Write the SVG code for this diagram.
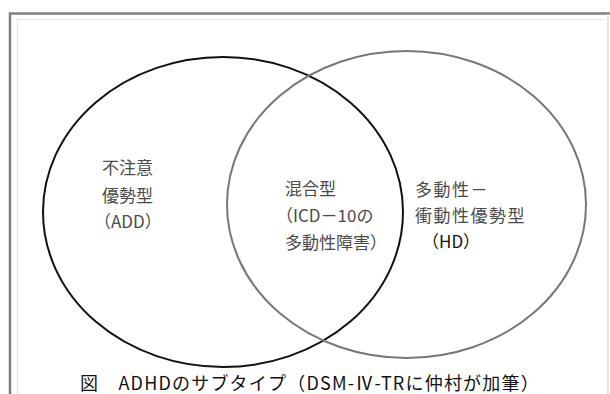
<svg xmlns="http://www.w3.org/2000/svg" width="610" height="394" viewBox="0 0 610 394">
<style>
.frame{fill:none;stroke:#808080;stroke-width:2.5}
.inner{fill:none;stroke:#e2e2e2;stroke-width:1.2}
.lbl{font-family:"Noto Sans CJK JP","Noto Sans",sans-serif;font-size:17px;fill:#4a4a4a}
.lbl2{font-family:"Noto Sans CJK JP","Noto Sans",sans-serif;font-size:17px;fill:#111}
.cap{font-family:"Noto Sans CJK JP","Noto Sans",sans-serif;font-size:18px;fill:#111;letter-spacing:1.2px}
</style>
<rect width="610" height="394" fill="#ffffff"/>
<g id="frame">
<path class="frame" d="M10,394 V13.5 H610"/>
<path class="inner" d="M17.5,394 V19.5 H604"/>
<line x1="608" y1="14" x2="608" y2="394" stroke="#dcdcdc" stroke-width="1.5"/>
</g>
<g id="connectors"></g>
<g id="set-inattentive">
<ellipse cx="223" cy="212" rx="180" ry="155" fill="none" stroke="#111" stroke-width="2"/>
<text class="lbl" x="102" y="174">不注意</text>
<text class="lbl" x="102" y="202">優勢型</text>
<text class="lbl" x="94" y="228">（ADD）</text>
</g>
<g id="set-hyperactive">
<ellipse cx="406.5" cy="204.5" rx="179.5" ry="153.5" fill="none" stroke="#777" stroke-width="2"/>
<text class="lbl" x="415" y="196" letter-spacing="1.5">多動性－</text>
<text class="lbl" x="415" y="222" letter-spacing="1.5">衝動性優勢型</text>
<text class="lbl2" x="422" y="248">（HD）</text>
</g>
<g id="combined">
<text class="lbl" x="285" y="195">混合型</text>
<text class="lbl" x="276" y="222">（ICD－10の</text>
<text class="lbl" x="285" y="249">多動性障害）</text>
</g>
<g id="caption">
<text class="cap" x="80" y="390">図　ADHDのサブタイプ（DSM-Ⅳ-TRに仲村が加筆）</text>
</g>
</svg>
